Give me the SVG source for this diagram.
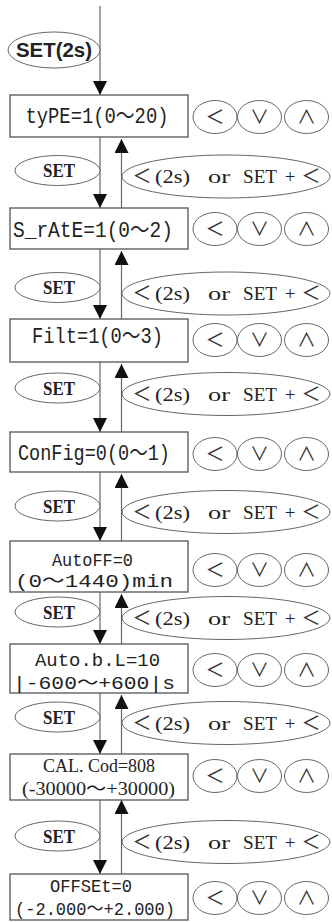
<svg xmlns="http://www.w3.org/2000/svg" width="332" height="922" viewBox="0 0 332 922">
<style>
.bx{fill:#fff;stroke:#555;stroke-width:1.3}
.el{fill:#fff;stroke:#666;stroke-width:1}
.ln{stroke:#666;stroke-width:1.2;fill:none}
.m{font-family:"Liberation Mono","Noto Sans CJK SC",monospace;font-size:22px;fill:#222;text-anchor:middle}
.m2{font-family:"Liberation Mono","Noto Sans CJK SC",monospace;font-size:18px;fill:#222;text-anchor:middle}
.s{font-family:"Liberation Serif","Noto Sans CJK SC",serif;font-size:18px;fill:#222;text-anchor:middle}
.set{font-family:"Liberation Serif",serif;font-size:18px;font-weight:bold;fill:#222;text-anchor:middle}
.r{font-family:"Liberation Serif","Noto Sans CJK SC",serif;font-size:19px;fill:#222;text-anchor:middle}
.lt{font-family:"Noto Sans CJK SC",sans-serif;font-size:19px;fill:#333;text-anchor:middle}
.bt{font-family:"Noto Sans CJK SC",sans-serif;font-size:19px;fill:#333;text-anchor:middle}
.top{font-family:"Liberation Sans",sans-serif;font-size:20px;font-weight:bold;fill:#222;text-anchor:middle}
</style>
<defs>
<marker id="ah" viewBox="0 0 14 14" refX="14" refY="7" markerWidth="14" markerHeight="14" orient="auto" markerUnits="userSpaceOnUse"><path d="M0,0 L14,7 L0,14 Z" fill="#111"/></marker>
<g id="btns">
<ellipse class="el" cx="215" cy="0" rx="22" ry="16.5"/>
<ellipse class="el" cx="259.5" cy="0" rx="22" ry="16.5"/>
<ellipse class="el" cx="306.5" cy="0" rx="22" ry="16.5"/>
<text class="bt" x="215" y="7">＜</text>
<text class="bt" x="259.5" y="7">∨</text>
<text class="bt" x="306.5" y="7">∧</text>
</g>
<g id="setpair">
<ellipse class="el" cx="57.5" cy="-6" rx="42.5" ry="15"/>
<text class="set" x="59" y="0.5" textLength="32" lengthAdjust="spacingAndGlyphs">SET</text>
<ellipse class="el" cx="226" cy="0" rx="104" ry="21.5"/>
<text class="lt" x="142" y="6.5">＜</text>
<text class="r" x="172.5" y="6.5" textLength="35" lengthAdjust="spacingAndGlyphs">(2s)</text>
<text class="r" x="219" y="6.5" textLength="22" lengthAdjust="spacingAndGlyphs">or</text>
<text class="r" x="260" y="6.5" textLength="34" lengthAdjust="spacingAndGlyphs">SET</text>
<text class="r" x="290" y="6.5">+</text>
<text class="lt" x="311" y="6.5">＜</text>
</g>
</defs>

<g id="connectors">
<line class="ln" x1="100" y1="6" x2="100" y2="95" marker-end="url(#ah)"/>
<line class="ln" x1="100" y1="137" x2="100" y2="208" marker-end="url(#ah)"/>
<line class="ln" x1="121.5" y1="208" x2="121.5" y2="139" marker-end="url(#ah)"/>
<line class="ln" x1="100" y1="249" x2="100" y2="319" marker-end="url(#ah)"/>
<line class="ln" x1="121.5" y1="319" x2="121.5" y2="251" marker-end="url(#ah)"/>
<line class="ln" x1="100" y1="362" x2="100" y2="432" marker-end="url(#ah)"/>
<line class="ln" x1="121.5" y1="432" x2="121.5" y2="364" marker-end="url(#ah)"/>
<line class="ln" x1="100" y1="472" x2="100" y2="541" marker-end="url(#ah)"/>
<line class="ln" x1="121.5" y1="541" x2="121.5" y2="474" marker-end="url(#ah)"/>
<line class="ln" x1="100" y1="592" x2="100" y2="644" marker-end="url(#ah)"/>
<line class="ln" x1="121.5" y1="644" x2="121.5" y2="594" marker-end="url(#ah)"/>
<line class="ln" x1="100" y1="693" x2="100" y2="754" marker-end="url(#ah)"/>
<line class="ln" x1="121.5" y1="754" x2="121.5" y2="695" marker-end="url(#ah)"/>
<line class="ln" x1="100" y1="800" x2="100" y2="874" marker-end="url(#ah)"/>
<line class="ln" x1="121.5" y1="874" x2="121.5" y2="800" marker-end="url(#ah)"/>
</g>

<g id="start">
<ellipse class="el" cx="54" cy="50" rx="46" ry="18"/>
<text class="top" x="54" y="57" textLength="76" lengthAdjust="spacingAndGlyphs">SET(2s)</text>
</g>

<g id="keys1"><use href="#setpair" transform="translate(0,176.5)"/></g>
<g id="keys2"><use href="#setpair" transform="translate(0,293.5)"/></g>
<g id="keys3"><use href="#setpair" transform="translate(0,394)"/></g>
<g id="keys4"><use href="#setpair" transform="translate(0,512)"/></g>
<g id="keys5"><use href="#setpair" transform="translate(0,618)"/></g>
<g id="keys6"><use href="#setpair" transform="translate(0,723)"/></g>
<g id="keys7"><use href="#setpair" transform="translate(0,842)"/></g>

<g id="type">
<rect class="bx" x="10" y="95" width="178" height="42"/>
<text class="m" x="97" y="123" textLength="143" lengthAdjust="spacingAndGlyphs">tyPE=1(0～20)</text>
<use href="#btns" transform="translate(0,117)"/>
</g>
<g id="srate">
<rect class="bx" x="10" y="208" width="178" height="41"/>
<text class="m" x="93" y="237" textLength="160" lengthAdjust="spacingAndGlyphs">S_rAtE=1(0～2)</text>
<use href="#btns" transform="translate(0,229)"/>
</g>
<g id="filt">
<rect class="bx" x="10" y="319" width="178" height="43"/>
<text class="m" x="97.5" y="343" textLength="131" lengthAdjust="spacingAndGlyphs">Filt=1(0～3)</text>
<use href="#btns" transform="translate(0,340)"/>
</g>
<g id="config">
<rect class="bx" x="10" y="432" width="178" height="40"/>
<text class="m" x="94" y="460" textLength="152" lengthAdjust="spacingAndGlyphs">ConFig=0(0～1)</text>
<use href="#btns" transform="translate(0,454)"/>
</g>
<g id="autoff">
<rect class="bx" x="10" y="541" width="178" height="51"/>
<text class="m2" x="92.5" y="566" textLength="81" lengthAdjust="spacingAndGlyphs">AutoFF=0</text>
<text class="m2" x="94" y="587" textLength="158" lengthAdjust="spacingAndGlyphs">(0～1440)min</text>
<use href="#btns" transform="translate(0,570)"/>
</g>
<g id="autobl">
<rect class="bx" x="10" y="644" width="178" height="49"/>
<text class="m2" x="97.5" y="666" textLength="125" lengthAdjust="spacingAndGlyphs">Auto.b.L=10</text>
<text class="m2" x="94" y="689" textLength="162" lengthAdjust="spacingAndGlyphs">|-600～+600|s</text>
<use href="#btns" transform="translate(0,670)"/>
</g>
<g id="calcod">
<rect class="bx" x="10" y="754" width="178" height="46"/>
<text class="s" x="99" y="772" textLength="112" lengthAdjust="spacingAndGlyphs">CAL. Cod=808</text>
<text class="s" x="98.5" y="795" textLength="153" lengthAdjust="spacingAndGlyphs">(-30000～+30000)</text>
<use href="#btns" transform="translate(0,776)"/>
</g>
<g id="offset">
<rect class="bx" x="10" y="874" width="178" height="46"/>
<text class="m2" x="91" y="892" textLength="82" lengthAdjust="spacingAndGlyphs">OFFSEt=0</text>
<text class="m2" x="95" y="915" textLength="160" lengthAdjust="spacingAndGlyphs">(-2.000～+2.000)</text>
<use href="#btns" transform="translate(0,898)"/>
</g>
</svg>
